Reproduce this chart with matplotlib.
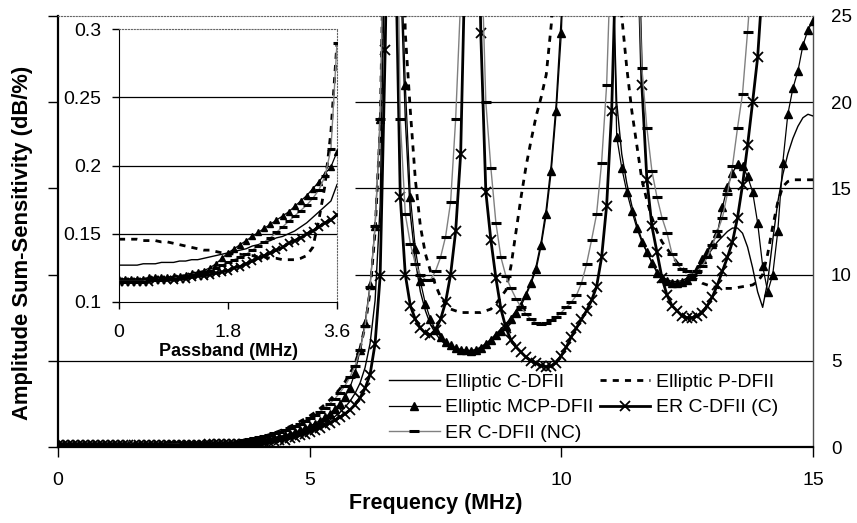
import numpy as np
import matplotlib
matplotlib.use("Agg")
import matplotlib.pyplot as plt

plt.rcParams['font.family'] = ['Liberation Sans', 'DejaVu Sans']

# ---------------- data ----------------
# passband sampling 0.0 .. 3.6 MHz (step 0.1)
freq_pass = np.round(np.arange(0.0, 3.65, 0.1), 2)
# stopband / transition sampling 3.7 .. 15.0 MHz (step 0.1)
freq_stop = np.round(np.arange(3.7, 15.05, 0.1), 2)

c_dfii_pass = [0.127, 0.127, 0.127, 0.127, 0.128, 0.128, 0.128, 0.129, 0.129, 0.129,
               0.130, 0.130, 0.131, 0.131, 0.132, 0.133, 0.134, 0.135, 0.136, 0.137,
               0.138, 0.139, 0.141, 0.142, 0.144, 0.145, 0.147, 0.148, 0.150, 0.152,
               0.155, 0.158, 0.162, 0.166, 0.170, 0.174, 0.186]
p_dfii_pass = [0.146, 0.146, 0.146, 0.146, 0.145, 0.145, 0.145, 0.144, 0.144, 0.143,
               0.142, 0.141, 0.140, 0.139, 0.138, 0.138, 0.137, 0.136, 0.136, 0.135,
               0.135, 0.134, 0.134, 0.133, 0.133, 0.132, 0.132, 0.131, 0.131, 0.131,
               0.132, 0.134, 0.140, 0.160, 0.185, 0.225, 0.290]
mcp_dfii_pass = [0.117, 0.117, 0.117, 0.117, 0.117, 0.118, 0.118, 0.118, 0.118, 0.119,
                 0.119, 0.120, 0.121, 0.122, 0.123, 0.125, 0.128, 0.132, 0.136, 0.139,
                 0.142, 0.145, 0.148, 0.151, 0.154, 0.157, 0.160, 0.163, 0.166, 0.170,
                 0.174, 0.178, 0.183, 0.188, 0.194, 0.199, 0.210]
er_c_pass = [0.115, 0.115, 0.115, 0.115, 0.115, 0.115, 0.116, 0.116, 0.116, 0.116,
             0.117, 0.117, 0.118, 0.119, 0.119, 0.120, 0.121, 0.122, 0.123, 0.125,
             0.126, 0.128, 0.130, 0.132, 0.134, 0.136, 0.138, 0.140, 0.143, 0.145,
             0.147, 0.150, 0.152, 0.155, 0.158, 0.160, 0.164]
er_nc_pass = [0.115, 0.115, 0.115, 0.115, 0.115, 0.116, 0.116, 0.116, 0.117, 0.117,
              0.118, 0.119, 0.120, 0.121, 0.122, 0.123, 0.125, 0.127, 0.129, 0.131,
              0.133, 0.135, 0.138, 0.141, 0.144, 0.147, 0.151, 0.155, 0.159, 0.163,
              0.167, 0.171, 0.176, 0.182, 0.192, 0.212, 0.290]

# values above 25 are off the chart (sensitivity peaks)
c_dfii_stop = [0.20, 0.22, 0.25,
               0.28, 0.31, 0.35, 0.40, 0.45, 0.51, 0.58, 0.66, 0.75, 0.85,
               0.96, 1.08, 1.22, 1.38, 1.56, 1.77, 2.00, 2.30, 2.65, 3.10,
               3.7, 4.6, 6.0, 8.5, 14, 30, 40, 40, 28, 19,
               13.5, 10.8, 9.0, 7.9, 7.1, 6.6, 6.2, 5.95, 5.8, 5.7,
               5.65, 5.6, 5.6, 5.65, 5.8, 6.0, 6.25, 6.55, 6.85, 7.15,
               7.5, 7.9, 8.35, 8.9, 9.6, 10.5, 11.9, 13.8, 16.4, 20,
               25, 33, 40, 40, 40, 40, 40, 40, 40, 40,
               30, 20, 17, 15.3, 14.0, 12.9, 12.0, 11.3, 10.7, 10.2,
               9.9, 9.7, 9.6, 9.6, 9.65, 9.8, 10.0, 10.3, 10.7, 11.1,
               11.5, 11.9, 12.2, 12.5, 12.7, 12.7, 12.4, 11.6, 10.4, 9.0,
               8.1, 9.6, 12.0, 14.2, 15.8, 17.0, 17.9, 18.6, 19.1, 19.3,
               19.2]
p_dfii_stop = [0.33, 0.40, 0.47,
               0.55, 0.63, 0.72, 0.82, 0.93, 1.05, 1.18, 1.32, 1.47, 1.63,
               1.80, 2.00, 2.22, 2.46, 2.73, 3.03, 3.37, 3.77, 4.25, 4.85,
               5.7, 7.0, 9.0, 12.5, 18.5, 34, 40, 40, 40, 24,
               19.5, 15.5, 12.8, 11.2, 10.2, 9.4, 8.7, 8.3, 8.0, 7.9,
               7.8, 7.8, 7.8, 7.8, 7.8, 7.9, 8.0, 8.3, 8.7, 9.1,
               10.5, 12.5, 14.5, 16.3, 17.8, 19.2, 20.3, 21.6, 24.5, 30,
               40, 40, 40, 40, 40, 40, 40, 40, 40, 40,
               40, 40, 25, 22, 19.5, 17.5, 15.5, 14.3, 13.3, 12.5,
               11.9, 11.5, 11.1, 10.7, 10.4, 10.1, 9.9, 9.7, 9.5, 9.4,
               9.3, 9.25, 9.2, 9.2, 9.2, 9.25, 9.3, 9.35, 9.4, 9.6,
               10.0, 11.2, 12.8, 14.2, 15.1, 15.4, 15.5, 15.5, 15.5, 15.5,
               15.5]
mcp_dfii_stop = [0.25, 0.29, 0.33,
                 0.37, 0.42, 0.47, 0.53, 0.60, 0.67, 0.76, 0.85, 0.96, 1.08,
                 1.21, 1.36, 1.53, 1.72, 1.94, 2.20, 2.50, 2.90, 3.45, 4.30,
                 5.6, 7.2, 9.4, 12.8, 19, 32, 40, 40, 30, 21,
                 14.5, 11.5, 9.6, 8.3, 7.4, 6.8, 6.4, 6.1, 5.9, 5.75,
                 5.65, 5.6, 5.55, 5.6, 5.75, 5.95, 6.2, 6.5, 6.75, 7.0,
                 7.4, 7.8, 8.2, 8.8, 9.5, 10.3, 11.7, 13.5, 16.0, 19.5,
                 24, 32, 40, 40, 40, 40, 40, 40, 40, 40,
                 32, 18.0, 16.2, 14.8, 13.7, 12.7, 11.9, 11.3, 10.7, 10.1,
                 9.8, 9.6, 9.5, 9.5, 9.55, 9.7, 9.9, 10.3, 10.9, 11.3,
                 11.8, 12.4, 13.9, 15.1, 15.9, 16.4, 16.3, 15.7, 14.8, 13.0,
                 10.5, 9.0, 10.0, 12.5, 16.5, 19.3, 20.8, 21.8, 23.3, 24.2,
                 24.7]
er_c_stop = [0.18, 0.20, 0.22,
             0.24, 0.27, 0.30, 0.34, 0.38, 0.43, 0.50, 0.58, 0.67, 0.77,
             0.88, 1.00, 1.12, 1.25, 1.39, 1.55, 1.72, 1.92, 2.15, 2.45,
             2.85, 3.4, 4.2, 6.0, 9.9, 23, 40, 30, 14.5, 10.0,
             8.2, 7.4, 6.9, 6.6, 6.5, 6.8, 7.4, 8.4, 10.0, 12.5,
             17, 30, 40, 40, 24, 14.8, 12.0, 9.8, 8.0, 6.9,
             6.2, 5.8, 5.5, 5.2, 5.0, 4.85, 4.72, 4.65, 4.7, 4.9,
             5.3, 5.8, 6.4, 6.9, 7.4, 7.9, 8.5, 9.3, 11.0, 14.0,
             19.5, 30, 40, 40, 40, 32, 21, 15.5, 12.8, 11.3,
             9.8, 8.8, 8.2, 7.9, 7.6, 7.5, 7.5, 7.6, 7.8, 8.2,
             8.7, 9.4, 10.2, 11.0, 11.9, 13.3, 15.2, 17.5, 20.0, 22.6,
             27, 35, 40, 40, 40, 40, 40, 40, 40, 40,
             40]
er_nc_stop = [0.38, 0.45, 0.52,
              0.58, 0.65, 0.72, 0.80, 0.89, 0.99, 1.10, 1.22, 1.35, 1.50,
              1.66, 1.84, 2.04, 2.27, 2.52, 2.80, 3.15, 3.55, 4.05, 4.70,
              5.6, 7.0, 9.3, 12.8, 19, 35, 40, 40, 19, 13.5,
              11.8, 10.6, 10.0, 9.7, 9.7, 10.2, 11.0, 12.2, 14.2, 19,
              26, 40, 40, 40, 30, 20, 16.2, 13.0, 11.0, 9.9,
              9.2, 8.6, 8.1, 7.7, 7.4, 7.2, 7.15, 7.2, 7.35, 7.55,
              7.8, 8.1, 8.4, 8.8, 9.5, 10.6, 12.0, 13.5, 16.5, 21,
              30, 40, 40, 40, 40, 30, 22, 18.5, 16.0, 14.5,
              13.3, 12.4, 11.2, 10.6, 10.3, 10.2, 10.0, 10.2, 10.5, 11.0,
              11.7, 12.5, 13.3, 14.7, 16.3, 18.5, 20.5, 24.1, 28, 40,
              40, 40, 40, 40, 40, 40, 40, 40, 40, 40,
              40]

labels = ["Elliptic C-DFII", "Elliptic P-DFII", "Elliptic MCP-DFII",
          "ER C-DFII (C)", "ER C-DFII (NC)"]
main_xticks = [0, 5, 10, 15]
main_yticks = [0, 5, 10, 15, 20, 25]
inset_xticks = [0, 1.8, 3.6]
inset_xticklabels = ["0", "1.8", "3.6"]
inset_yticks = [0.1, 0.15, 0.2, 0.25, 0.3]
inset_yticklabels = ["0.1", "0.15", "0.2", "0.25", "0.3"]

# ---------------- styles ----------------
styles = {
    "Elliptic C-DFII": dict(color="black", lw=1.0, ls="-"),
    "Elliptic P-DFII": dict(color="black", lw=2.0, ls=(0, (2.2, 2.2))),
    "Elliptic MCP-DFII": dict(color="black", lw=0.9, ls="-", marker="^", ms=5.5),
    "ER C-DFII (C)": dict(color="black", lw=2.0, ls="-", marker="x", ms=6.5, mew=1.3),
    "ER C-DFII (NC)": dict(color="0.5", lw=1.0, ls="-", marker="_", ms=6.5,
                           mew=2.2, mec="black"),
}

series_pass = {"Elliptic C-DFII": c_dfii_pass, "Elliptic P-DFII": p_dfii_pass,
               "Elliptic MCP-DFII": mcp_dfii_pass, "ER C-DFII (C)": er_c_pass,
               "ER C-DFII (NC)": er_nc_pass}
series_stop = {"Elliptic C-DFII": c_dfii_stop, "Elliptic P-DFII": p_dfii_stop,
               "Elliptic MCP-DFII": mcp_dfii_stop, "ER C-DFII (C)": er_c_stop,
               "ER C-DFII (NC)": er_nc_stop}

W, H = 857, 523
fig = plt.figure(figsize=(W / 100, H / 100), dpi=100)
ax = fig.add_axes([58 / W, 1 - 447 / H, 755 / W, 431 / H])

freq_all = np.concatenate([freq_pass, freq_stop])
handles = {}
for name in labels:
    vals = np.concatenate([series_pass[name], series_stop[name]])
    ln, = ax.plot(freq_all, vals, zorder=3, **styles[name])
    handles[name] = ln

ax.set_xlim(0, 15)
ax.set_ylim(0, 25)
ax.hlines([5], 0, 15, color="black", lw=0.9, zorder=1)
ax.hlines([10, 15, 20], 5.9, 15, color="black", lw=0.9, zorder=1)

ax.set_xticks(main_xticks)
ax.set_yticks(main_yticks)
ax.tick_params(axis="x", direction="out", length=7, width=1, labelsize=14, pad=11)
ax.tick_params(axis="y", which="both", direction="out", length=7, width=1,
               left=True, right=False, labelleft=False, labelright=True,
               labelsize=13.5, pad=6)
for s in ["left", "bottom"]:
    ax.spines[s].set_linewidth(1.6)
ax.spines["top"].set_color("0.4")
ax.spines["top"].set_linestyle(":")
ax.spines["right"].set_color("0.3")
ax.spines["right"].set_linewidth(1.0)

ax.set_xlabel("Frequency (MHz)", fontsize=15.5, fontweight="bold", labelpad=3)
ax.set_ylabel("Amplitude Sum-Sensitivity (dB/%)", fontsize=15.8, fontweight="bold")
ax.yaxis.set_label_coords(-0.033, 0.473)

# legend: column-major order so rows read as in the reference
order = ["Elliptic C-DFII", "Elliptic MCP-DFII", "ER C-DFII (NC)",
         "Elliptic P-DFII", "ER C-DFII (C)"]
leg = ax.legend([handles[n] for n in order], order, ncol=2, loc="upper left",
                bbox_to_anchor=(389 / W, 1 - 373 / H), bbox_transform=fig.transFigure,
                frameon=False, fontsize=14, handlelength=2.6, handletextpad=0.3,
                columnspacing=0.3, labelspacing=0.42, borderpad=0.0, numpoints=1,
                borderaxespad=0.0)

# ---------------- inset (passband) ----------------
axi = fig.add_axes([119 / W, 1 - 302 / H, 218 / W, 273 / H])
for name in labels:
    st = dict(styles[name])
    if "ms" in st:
        st["ms"] = st["ms"] * 0.9
    axi.plot(freq_pass, series_pass[name], zorder=3, clip_on=True, **st)
axi.set_xlim(0, 3.6)
axi.set_ylim(0.1, 0.3)
axi.hlines([0.15, 0.2, 0.25], 0, 3.6, color="black", lw=0.9, zorder=1)
axi.set_xticks(inset_xticks)
axi.set_xticklabels(inset_xticklabels)
axi.set_yticks(inset_yticks)
axi.set_yticklabels(inset_yticklabels)
axi.tick_params(axis="both", direction="out", length=5, width=1, labelsize=14)
axi.tick_params(axis="x", pad=11)
axi.tick_params(axis="y", pad=8)
axi.spines["top"].set_color("0.4")
axi.spines["top"].set_linestyle(":")
axi.spines["right"].set_color("0.4")
axi.spines["right"].set_linestyle(":")
axi.set_xlabel("Passband (MHz)", fontsize=13, fontweight="bold", labelpad=1)

fig.savefig("out.png", dpi=100)
